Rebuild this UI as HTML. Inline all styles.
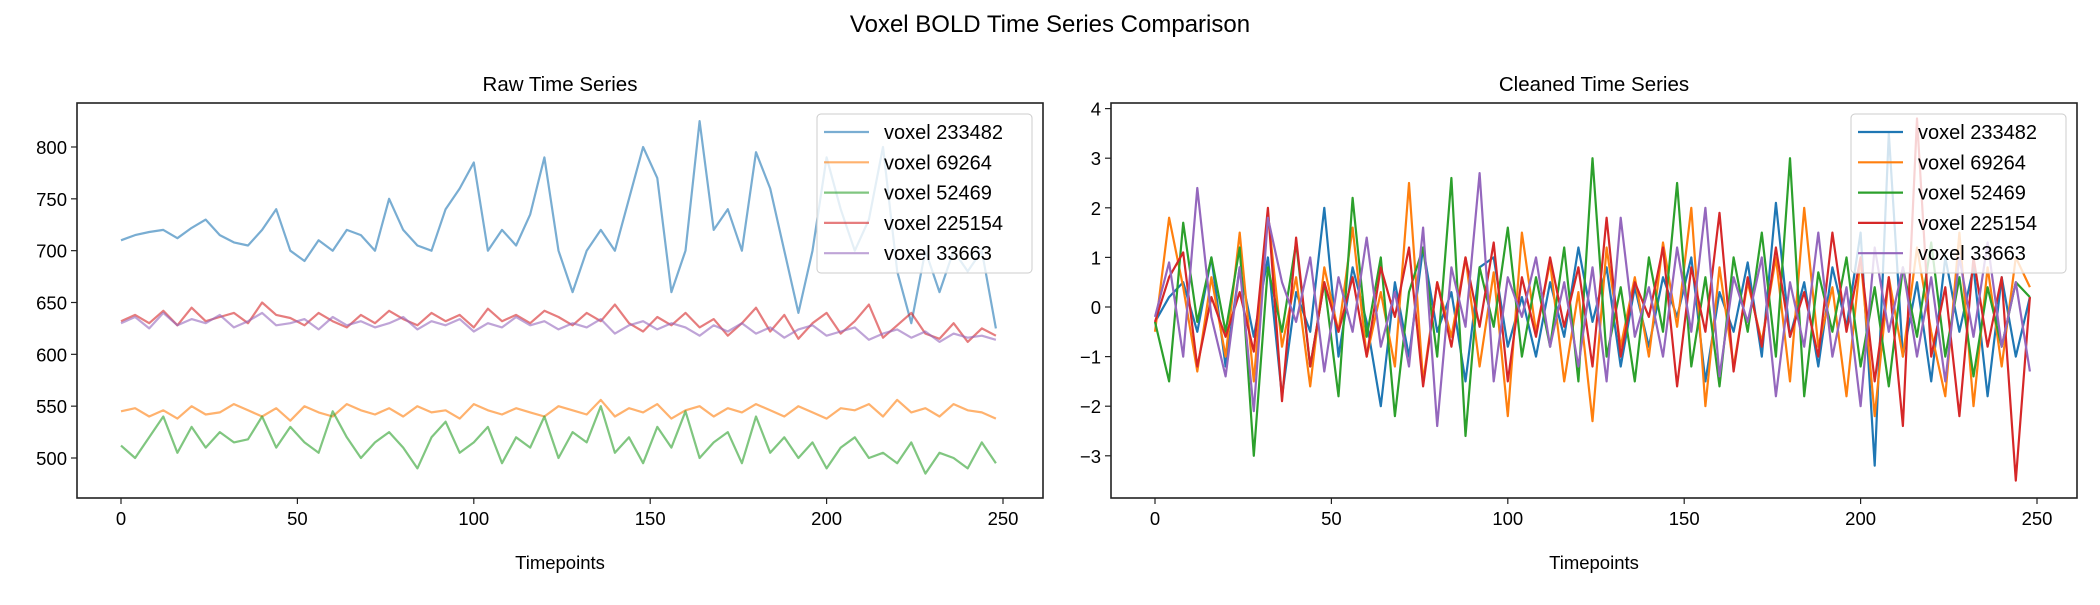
<!DOCTYPE html>
<html><head><meta charset="utf-8"><style>
body{margin:0;background:#fff;}
svg{font-family:"Liberation Sans","DejaVu Sans",sans-serif;}
</style></head><body>
<svg id="chart" width="2100" height="600" xmlns="http://www.w3.org/2000/svg">
<text x="1050" y="32" font-size="24" text-anchor="middle">Voxel BOLD Time Series Comparison</text>
<g id="left"></g>
<g id="right"></g>
</svg>
<script>
const timepoints=Array.from({length:63},(_,i)=>i*4);
const voxels=["voxel 233482","voxel 69264","voxel 52469","voxel 225154","voxel 33663"];
const colors=["#1f77b4","#ff7f0e","#2ca02c","#d62728","#9467bd"];
const raw0=[710,715,718,720,712,722,730,715,708,705,720,740,700,690,710,700,720,715,700,750,720,705,700,740,760,785,700,720,705,735,790,700,660,700,720,700,750,800,770,660,700,825,720,740,700,795,760,700,640,700,790,740,700,730,800,680,630,700,660,700,680,700,625];
const raw1=[545,548,540,546,538,550,542,544,552,546,540,548,536,550,544,540,552,546,542,548,540,550,544,546,538,552,546,542,548,544,540,550,546,542,556,540,548,544,552,538,546,550,540,548,544,552,546,540,550,544,538,548,546,552,540,556,544,548,540,552,546,544,538];
const raw2=[512,500,520,540,505,530,510,525,515,518,540,510,530,515,505,545,520,500,515,525,510,490,520,535,505,515,530,495,520,510,540,500,525,515,550,505,520,495,530,510,545,500,515,525,495,540,505,520,500,515,490,510,520,500,505,495,515,485,505,500,490,515,495];
const raw3=[632,638,630,642,628,645,632,636,640,630,650,638,635,628,640,632,626,638,630,642,634,628,640,632,638,626,644,632,638,630,642,636,628,640,632,648,630,622,636,628,640,626,634,618,630,645,622,638,615,630,640,620,632,648,616,628,640,620,615,630,612,625,618];
const raw4=[630,636,625,640,628,634,630,638,626,632,640,628,630,634,624,636,628,632,626,630,636,624,632,628,634,622,630,626,636,628,632,624,630,626,634,620,628,632,624,630,626,618,628,622,630,620,626,616,624,628,618,622,626,614,620,624,616,622,612,620,616,618,614];
const cl0=[-0.3,0.2,0.5,-0.5,1.0,-1.2,0.8,-0.6,1.0,-1.8,0.3,-0.5,2.0,-1.0,0.8,-0.3,-2.0,0.5,-1.0,1.2,-0.5,0.3,-1.5,0.8,1.0,-0.8,0.2,-1.0,0.5,-0.6,1.2,-0.3,0.8,-1.2,0.4,-0.8,0.6,-0.2,1.0,-1.5,0.3,-0.5,0.9,-1.0,2.1,-0.6,0.5,-1.2,0.8,-0.4,1.5,-3.2,3.5,-1.0,0.5,-1.5,1.0,-0.5,0.8,-1.8,0.6,-1.0,0.2];
const cl1=[-0.5,1.8,0.4,-1.3,0.6,-1.0,1.5,-1.5,1.9,-0.8,0.6,-1.6,0.8,-0.5,1.6,-1.0,0.3,-1.2,2.5,-1.5,0.5,-0.6,1.0,-1.2,0.7,-2.2,1.5,-0.5,0.9,-1.5,0.3,-2.3,1.2,-0.8,0.6,-1.0,1.3,-0.4,2.0,-2.0,0.8,-1.2,0.5,-0.7,1.0,-1.5,2.0,-0.8,0.4,-1.8,1.0,-2.2,0.6,-1.0,1.2,-0.5,-1.8,1.5,-2.0,0.8,-1.2,1.0,0.4];
const cl2=[-0.3,-1.5,1.7,-0.3,1.0,-0.5,1.2,-3.0,0.8,-0.5,1.3,-1.2,0.5,-1.8,2.2,-0.6,1.0,-2.2,0.3,1.2,-1.0,2.6,-2.6,0.8,-0.4,1.6,-1.0,0.6,-0.8,1.2,-1.5,3.0,-1.0,0.4,-1.5,1.0,-0.5,2.5,-1.2,0.6,-1.6,1.0,-0.5,1.5,-1.0,3.0,-1.8,0.7,-0.5,1.0,-1.2,0.4,-1.6,0.8,-0.6,1.3,-1.0,0.6,-1.4,0.4,-0.8,0.5,0.2];
const cl3=[-0.3,0.6,1.1,-1.2,0.2,-0.6,0.3,-0.9,2.0,-1.9,1.4,-1.2,0.5,-0.5,0.6,-1.0,0.8,-0.2,1.2,-1.6,0.5,-0.8,1.0,-0.4,1.3,-1.5,0.6,-0.6,1.0,-0.4,0.8,-1.2,1.8,-1.0,0.5,-0.2,1.2,-1.6,0.8,-0.5,1.9,-1.3,0.6,-0.8,1.2,-0.6,0.3,-1.0,1.5,-0.5,1.0,-1.5,0.6,-2.4,3.8,-1.0,0.4,-2.2,1.0,-0.8,0.6,-3.5,0.2];
const cl4=[-0.2,0.9,-1.0,2.4,-0.2,-1.4,0.8,-2.1,1.8,0.5,-0.3,1.0,-1.3,0.6,-0.5,1.4,-0.8,0.3,-1.2,1.6,-2.4,0.8,-0.4,2.7,-1.5,0.6,-0.2,1.0,-0.8,0.5,-1.2,0.8,-1.5,1.8,-0.6,0.4,-1.0,1.2,-0.5,2.0,-1.4,0.6,-0.3,1.0,-1.8,0.5,-0.8,1.5,-1.0,0.4,-2.0,1.2,-0.5,0.8,-1.0,0.6,-1.5,1.0,-0.6,1.3,-0.8,0.5,-1.3];
const rawTicks=[500,550,600,650,700,750,800];
const clTicks=[-3,-2,-1,0,1,2,3,4];
const xTicks=[0,50,100,150,200,250];

const NS="http://www.w3.org/2000/svg";
function mk(p,tag,a){const e=document.createElementNS(NS,tag);for(const k in a)e.setAttribute(k,a[k]);p.appendChild(e);return e;}
function panel(g,box,xs,ys,yTicks,series,title,alpha,legX,tickFmt){
  const [L,T,R,B]=box;
  mk(g,'rect',{x:L,y:T,width:R-L,height:B-T,fill:'#fff'});
  const t=mk(g,'text',{x:(L+R)/2,y:T-12,'font-size':20.5,'text-anchor':'middle'});t.textContent=title;
  
  
  series.forEach((s,i)=>{
    const d=s.map((v,j)=>(j?'L':'M')+xs(timepoints[j]).toFixed(1)+','+ys(v).toFixed(1)).join('');
    const p=mk(g,'path',{d:d,fill:'none',stroke:colors[i],'stroke-width':2.2,'stroke-opacity':alpha,'stroke-linejoin':'round'});
    
    
  });
  mk(g,'rect',{x:L,y:T,width:R-L,height:B-T,fill:'none',stroke:'#222','stroke-width':1.6});
  xTicks.forEach(v=>{const x=xs(v);mk(g,'line',{x1:x,x2:x,y1:B,y2:B+6,stroke:'#222','stroke-width':1.2});
    const tx=mk(g,'text',{x:x,y:B+27,'font-size':18.5,'text-anchor':'middle'});tx.textContent=v;
    
    });
  yTicks.forEach(v=>{const y=ys(v);mk(g,'line',{x1:L-6,x2:L,y1:y,y2:y,stroke:'#222','stroke-width':1.2});
    const ty=mk(g,'text',{x:L-10,y:y+7,'font-size':18.5,'text-anchor':'end'});ty.textContent=tickFmt(v);
    
    });
  const xl=mk(g,'text',{x:(L+R)/2,y:B+71,'font-size':18.5,'text-anchor':'middle'});xl.textContent='Timepoints';
  
  
  const lg=mk(g,'g',{});
  
  
  mk(lg,'rect',{x:legX,y:114,width:215,height:159,rx:4,fill:'#fff','fill-opacity':0.8,stroke:'#ccc'});
  voxels.forEach((n,i)=>{const y=132+i*30.3;
    mk(lg,'line',{x1:legX+7,x2:legX+52,y1:y,y2:y,stroke:colors[i],'stroke-width':2.2,'stroke-opacity':alpha});
    const tt=mk(lg,'text',{x:legX+67,y:y+7,'font-size':20});tt.textContent=n;
    
    });
}
const xsL=v=>121+v*3.528, ysL=v=>458-(v-500)*1.0367;
panel(document.getElementById('left'),[77,103,1043,498],xsL,ysL,rawTicks,[raw0,raw1,raw2,raw3,raw4],'Raw Time Series',0.6,817,v=>v);
const xsR=v=>1155+v*3.528, ysR=v=>307-v*49.6;
panel(document.getElementById('right'),[1111,103,2077,498],xsR,ysR,clTicks,[cl0,cl1,cl2,cl3,cl4],'Cleaned Time Series',1,1851,v=>v<0?'\u2212'+(-v):v);
</script>
</body></html>
